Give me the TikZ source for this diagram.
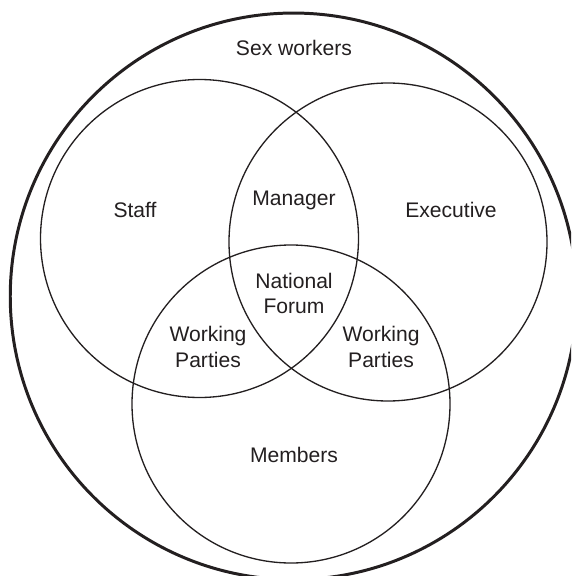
\documentclass[tikz,border=0pt]{standalone}
\usepackage{fontspec}
\setmainfont{Liberation Sans}
\definecolor{ink}{HTML}{231F20}

\begin{document}
\begin{tikzpicture}
		[set/.style= {circle,draw=ink,line width=0.75pt,minimum size=6.36cm,inner sep=0pt},
		 lbl/.style= {text=ink,font=\fontsize{12}{14.5}\selectfont,align=center,anchor=base,inner sep=0pt}]

		\useasboundingbox (0,0) rectangle (11.42,-11.52);
		\clip (0,0) rectangle (11.42,-11.52);

		% whole population
		\node[set,line width=1.7pt,minimum size=11.33cm] (sexwork) at (5.87,-5.926) {};

		% the three bodies
		\node[set] (staff) at (3.99,-4.77) {};
		\node[set] (exec) at (7.76,-4.84) {};
		\node[set] (members) at (5.82,-8.08) {};

		\node[lbl] (lsexwork) at (5.88,-1.12) {Sex workers};
		\node[lbl] (lstaff) at (2.70,-4.356) {Staff};
		\node[lbl] (lmanager) at (5.88,-4.116) {Manager};
		\node[lbl] (lexec) at (9.02,-4.356) {Executive};
		\node[lbl] (lforum) at (5.88,-6.278) {National\\Forum};
		\node[lbl] (lpartyl) at (4.16,-7.34) {Working\\Parties};
		\node[lbl] (lpartyr) at (7.62,-7.34) {Working\\Parties};
		\node[lbl] (lmembers) at (5.88,-9.25) {Members};

	\end{tikzpicture}
\end{document}
